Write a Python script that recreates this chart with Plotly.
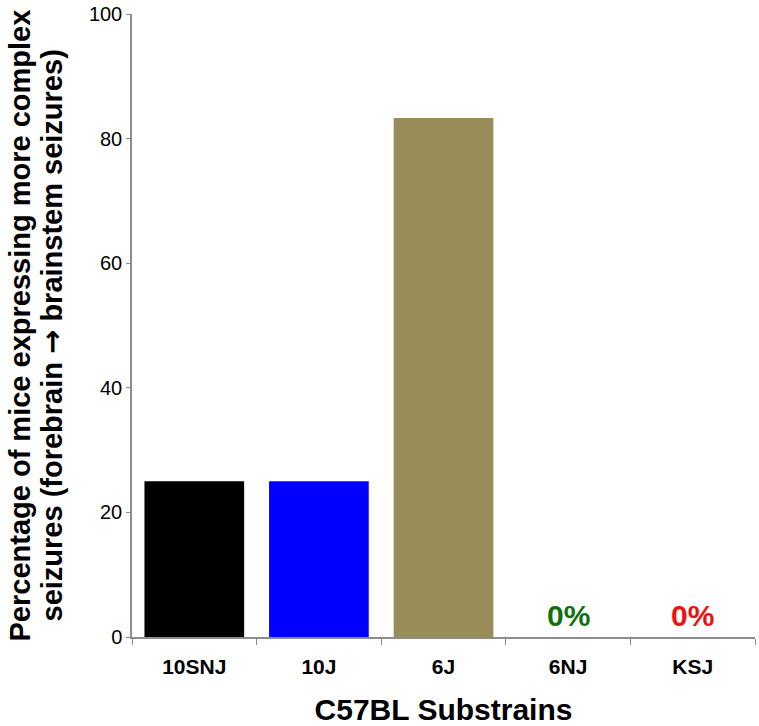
import plotly.graph_objects as go

categories = ["10SNJ", "10J", "6J", "6NJ", "KSJ"]
values = [25, 25, 83.3, 0, 0]
bar_colors = ["#000000", "#0000ff", "#978c5a", "#107010", "#ee1111"]
zero_labels = ["", "", "", "0%", "0%"]
y_ticks = [0, 20, 40, 60, 80, 100]
y_title_lines = ["Percentage of mice expressing more complex",
                 "seizures (forebrain <span style=\"font-family:'DejaVu Sans'\">\u2192</span> brainstem seizures)"]
x_title = "C57BL Substrains"

FONT = "Liberation Sans, Arial, sans-serif"
L, R, T, B = 132, 4, 14, 89
W, H = 759, 726
pw = W - L - R

fig = go.Figure()
fig.add_trace(go.Bar(x=categories, y=values, marker=dict(color=bar_colors, line=dict(width=0)),
                     width=0.8, showlegend=False))

for c, v, lab, col in zip(categories, values, zero_labels, bar_colors):
    if lab:
        fig.add_annotation(x=c, y=v, text="<b>%s</b>" % lab, showarrow=False,
                           yanchor="bottom", yshift=3,
                           font=dict(family=FONT, size=30, color=col))

# y-axis title as two rotated lines with tight spacing
for cx, ys, line in zip([19, 51], [0, -10], y_title_lines):
    fig.add_annotation(xref="paper", yref="paper", x=-(L - cx) / pw, y=0.5, yshift=ys,
                       xanchor="center", yanchor="middle", textangle=-90,
                       text="<b>%s</b>" % line, showarrow=False,
                       font=dict(family=FONT, size=29, color="black"))

fig.update_layout(
    width=W, height=H,
    margin=dict(l=L, r=R, t=T, b=B),
    plot_bgcolor="white", paper_bgcolor="white",
    font=dict(family=FONT, color="black"),
    xaxis=dict(
        title=dict(text="<b>%s</b>" % x_title, font=dict(size=30), standoff=22),
        tickfont=dict(size=21), tickprefix="<b>", ticksuffix="</b>",
        ticklabelstandoff=10,
        showline=True, linecolor="#8c8c8c", linewidth=1.5,
        ticks="outside", tickson="boundaries", ticklen=6, tickcolor="#8c8c8c",
        showgrid=False, zeroline=False, automargin=False,
    ),
    yaxis=dict(
        range=[0, 100], tickvals=y_ticks, tickfont=dict(size=20),
        showline=True, linecolor="#8c8c8c", linewidth=1.5,
        ticks="outside", ticklen=4, tickcolor="#8c8c8c",
        showgrid=False, zeroline=False, automargin=False,
    ),
)

fig.write_html("out.html", config={"displayModeBar": False},
               post_script="document.body.style.margin='0';document.body.style.padding='0';")
